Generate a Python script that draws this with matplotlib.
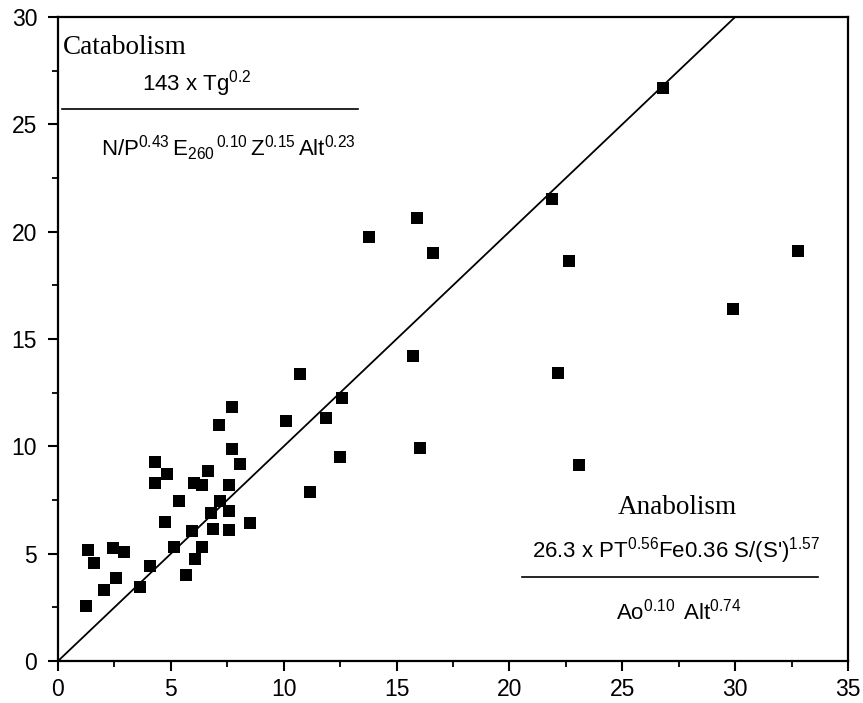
import matplotlib
matplotlib.use("Agg")
import matplotlib.pyplot as plt
from matplotlib.ticker import MultipleLocator

plt.rcParams['font.family'] = ['Liberation Sans', 'DejaVu Sans']
plt.rcParams['mathtext.fontset'] = 'custom'
plt.rcParams['mathtext.rm'] = 'Liberation Sans'
plt.rcParams['mathtext.it'] = 'Liberation Sans'
plt.rcParams['mathtext.bf'] = 'Liberation Sans'

x_vals = [1.23, 1.34, 1.61, 2.02, 2.42, 2.56, 2.92, 3.62, 4.06, 4.31, 4.31, 4.83,
          4.74, 5.12, 5.35, 5.66, 5.94, 6.07, 6.03, 6.37, 6.38, 6.65, 6.78, 6.87,
          7.18, 7.15, 7.69, 7.69, 7.58, 7.59, 7.59, 8.06, 8.49, 10.10, 11.17, 11.87,
          13.76, 15.89, 16.61, 22.64, 10.74, 12.60, 15.73, 22.14, 16.05, 12.49,
          23.08, 26.79, 21.90, 32.77, 29.92]
y_vals = [2.57, 5.18, 4.56, 3.32, 5.27, 3.89, 5.10, 3.47, 4.43, 9.26, 8.28, 8.73,
          6.48, 5.29, 7.44, 4.00, 6.06, 4.74, 8.28, 8.20, 5.29, 8.85, 6.91, 6.14,
          7.44, 10.99, 11.84, 9.89, 8.19, 6.99, 6.12, 9.16, 6.42, 11.18, 7.89, 11.32,
          19.77, 20.62, 19.02, 18.62, 13.35, 12.26, 14.20, 13.40, 9.94, 9.52,
          9.12, 26.70, 21.53, 19.08, 16.42]
identity_line = [0, 35]
x_ticks = [0, 5, 10, 15, 20, 25, 30, 35]
y_ticks = [0, 5, 10, 15, 20, 25, 30]

fig = plt.figure(figsize=(8.63, 7.03), dpi=100)
ax = fig.add_axes([0.0672, 0.0597, 0.9154, 0.9161])

ax.plot(identity_line, identity_line, color='black', lw=1.3)
ax.plot(x_vals, y_vals, linestyle='none', marker='s', markersize=8.3,
        color='black', markeredgewidth=0)

ax.set_xlim(0, 35)
ax.set_ylim(0, 30)
ax.set_xticks(x_ticks)
ax.set_yticks(y_ticks)
ax.xaxis.set_minor_locator(MultipleLocator(2.5))
ax.yaxis.set_minor_locator(MultipleLocator(2.5))
ax.tick_params(which='major', direction='out', length=7, width=1.5,
               labelsize=16.5, top=False, right=False)
ax.tick_params(axis='y', which='major', pad=8)
ax.tick_params(axis='x', which='major', pad=5)
ax.tick_params(which='minor', direction='out', length=4, width=1.3,
               top=False, right=False)
for s in ax.spines.values():
    s.set_linewidth(1.6)

# Catabolism annotation
ax.text(0.22, 28.3, 'Catabolism', family='Liberation Serif', fontsize=19.5,
        ha='left', va='baseline')
ax.text(3.72, 26.56, r'$\mathrm{143\ x\ Tg^{0.2}}$', fontsize=16,
        ha='left', va='baseline')
ax.plot([0.18, 13.29], [25.72, 25.72], color='black', lw=1.2)
ax.text(1.9, 23.53, r'$\mathrm{N/P^{0.43}\,E_{260}{}^{\,0.10}\,Z^{0.15}\,Alt^{0.23}}$',
        fontsize=16, ha='left', va='baseline')

# Anabolism annotation
ax.text(24.8, 6.84, 'Anabolism', family='Liberation Serif', fontsize=19.5,
        ha='left', va='baseline')
ax.text(21.0, 4.84, r"$\mathrm{26.3\ x\ PT^{0.56}Fe0.36\ S/(S\text{'})^{1.57}}$",
        fontsize=16, ha='left', va='baseline')
ax.plot([20.56, 33.67], [3.9, 3.9], color='black', lw=1.2)
ax.text(24.72, 1.95, r'$\mathrm{Ao^{0.10}\ \,Alt^{0.74}}$', fontsize=16,
        ha='left', va='baseline')

fig.savefig('out.png', dpi=100)
